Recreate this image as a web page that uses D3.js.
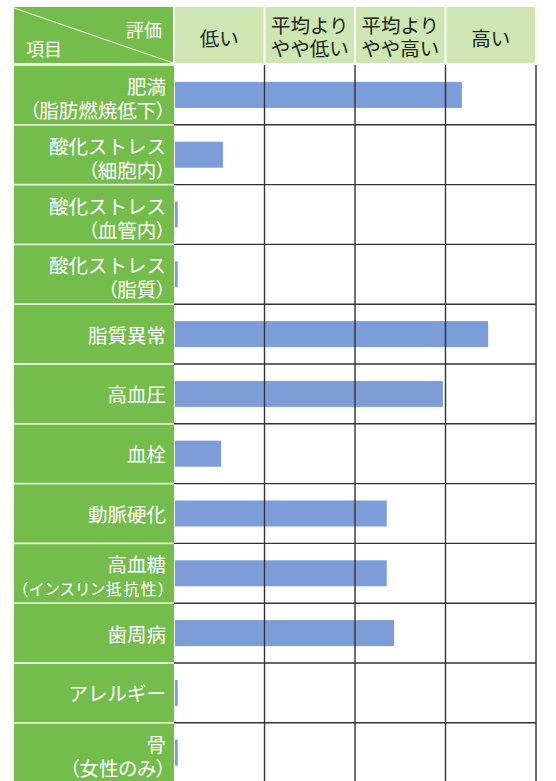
<!DOCTYPE html>
<html><head><meta charset="utf-8">
<script src="https://cdn.jsdelivr.net/npm/d3@7/dist/d3.min.js"></script>
<style>
html,body{margin:0;padding:0;background:#fff;}
svg{display:block;font-family:"Noto Sans CJK JP","Noto Sans CJK SC",sans-serif;}
text.p{font-feature-settings:"palt";}
</style></head>
<body><svg id="c" width="556" height="781"></svg>
<script>
// Data
const items = [
  ["肥満","（脂肪燃焼低下）"],
  ["酸化ストレス","（細胞内）"],
  ["酸化ストレス","（血管内）"],
  ["酸化ストレス","（脂質）"],
  ["脂質異常"],
  ["高血圧"],
  ["血栓"],
  ["動脈硬化"],
  ["高血糖","（インスリン抵抗性）"],
  ["歯周病"],
  ["アレルギー"],
  ["骨","（女性のみ）"]
];
const values = [3.17, 0.53, 0.03, 0.03, 3.46, 2.96, 0.51, 2.34, 2.34, 2.42, 0.03, 0.03];
const levels = [["低い"],["平均より","やや低い"],["平均より","やや高い"],["高い"]];
const headerLeft = {top:"評価", bottom:"項目"};

(function(){
const svg = d3.select("#c");
const darkGreen = "#74bc4c", lightGreen = "#cde6b2", barColor = "#7c9dd8", gridColor = "#333";
const left = 14, gx0 = 174, gx1 = 536, topY = 7, headBottom = 65, rowH = 59.8;

const x = d3.scaleLinear().domain([0, levels.length]).range([gx0, gx1]);
const y = d3.scaleBand().domain(d3.range(items.length)).range([headBottom, headBottom + rowH*items.length]).paddingInner(0);

// header left cell
svg.append("rect").attr("x", left).attr("y", topY).attr("width", gx0-left-1).attr("height", headBottom-topY-2).attr("fill", darkGreen);
svg.append("line").attr("x1", left).attr("y1", topY+1).attr("x2", gx0-1).attr("y2", headBottom-2)
  .attr("stroke","#e6f3da").attr("stroke-width",1.3);
svg.append("text").attr("x", gx0-12).attr("y", 29).attr("text-anchor","end").attr("dominant-baseline","central")
  .attr("fill","#fff").attr("font-size",18).text(headerLeft.top);
svg.append("text").attr("x", left+12).attr("y", 48).attr("text-anchor","start").attr("dominant-baseline","central")
  .attr("fill","#fff").attr("font-size",18).text(headerLeft.bottom);

// header level cells
const hg = svg.append("g").selectAll("g").data(levels).join("g");
hg.append("rect").attr("x", (d,i)=>x(i)+1).attr("y", topY).attr("width", (d,i)=>x(i+1)-x(i)-2).attr("height", headBottom-topY-2).attr("fill", lightGreen);
hg.each(function(d,i){
  const g = d3.select(this);
  const cx = (x(i)+x(i+1))/2;
  const ys = d.length===1 ? [37] : [24, 47];
  d.forEach((t,k)=>{
    g.append("text").attr("x", cx).attr("y", ys[k]).attr("text-anchor","middle").attr("dominant-baseline","central")
      .attr("fill","#222").attr("font-size",19.5).text(t);
  });
});

// left label column
const lg = svg.append("g").selectAll("g").data(items).join("g");
lg.append("rect").attr("x", left).attr("y", (d,i)=>y(i)).attr("width", gx0-left).attr("height", y.bandwidth()).attr("fill", darkGreen);
lg.each(function(d,i){
  const g = d3.select(this);
  const cy = y(i) + y.bandwidth()/2;
  const ys = d.length===1 ? [cy] : [cy-9.5, cy+14.5];
  d.forEach((t,k)=>{
    const isSub = t.startsWith("（");
    const long = t.length > 8;
    const tx = g.append("text").attr("class", isSub ? "p" : null)
      .attr("x", gx0-8).attr("y", ys[k]).attr("text-anchor","end").attr("dominant-baseline","central")
      .attr("fill","#fff").attr("font-size", long ? 16 : 19.5).text(t);
    if (long) tx.attr("textLength", 146).attr("lengthAdjust","spacing");
  });
});
// left separators
svg.append("g").selectAll("line").data(d3.range(items.length)).join("line")
  .attr("x1", left).attr("x2", gx0).attr("y1", i=>y(i)).attr("y2", i=>y(i))
  .attr("stroke","#e3f1d5").attr("stroke-width",1.8);

// bars
svg.append("g").selectAll("rect").data(values).join("rect")
  .attr("x", x(0)+1).attr("y", (d,i)=>y(i)+y.bandwidth()/2-13)
  .attr("width", d=>x(d)-x(0)).attr("height", 26).attr("fill", barColor);

// grid
const grid = svg.append("g").attr("stroke", gridColor).attr("stroke-width",1.4);
grid.selectAll("line.v").data(d3.range(1, levels.length+1)).join("line").attr("class","v")
  .attr("x1", d=>x(d)).attr("x2", d=>x(d)).attr("y1", headBottom).attr("y2", 781);
grid.selectAll("line.h").data(d3.range(1, items.length)).join("line").attr("class","h")
  .attr("x1", gx0).attr("x2", gx1).attr("y1", i=>y(i)).attr("y2", i=>y(i));
})();
</script></body></html>
